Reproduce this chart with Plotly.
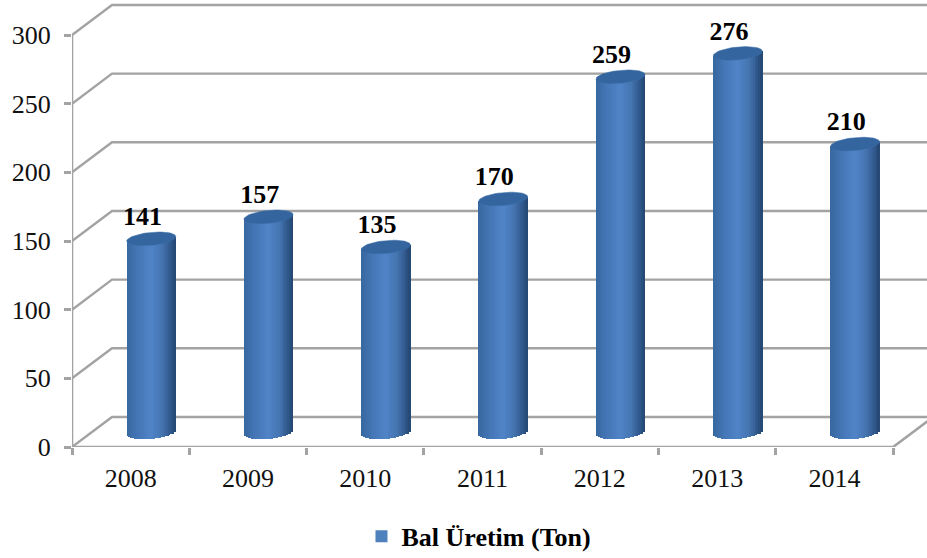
import numpy as np
import plotly.graph_objects as go

years = ["2008", "2009", "2010", "2011", "2012", "2013", "2014"]
values = [141, 157, 135, 170, 259, 276, 210]
y_ticks = [0, 50, 100, 150, 200, 250, 300]
series_name = "Bal Üretim (Ton)"

FONT = "Liberation Serif"
GRID = "#a3a3a3"
WALL_DX, WALL_DY = 0.341, 21.9
BAR_DX, BAR_DY = 0.176, 10.6
BAR_W = 0.418
ELL_H = 4.7
SKEW = 1.6
STRIPS = 26

def lerp(stops, t):
    for (a, ca), (b, cb) in zip(stops, stops[1:]):
        if t <= b:
            f = (t - a) / (b - a)
            c = [ca[k] + (cb[k] - ca[k]) * f for k in range(3)]
            return "rgb(%d,%d,%d)" % tuple(c)
    return "rgb(%d,%d,%d)" % tuple(stops[-1][1])

STOPS = [(0.0, (56, 104, 160)), (0.25, (70, 120, 184)), (0.5, (80, 132, 200)),
         (0.72, (70, 118, 178)), (0.9, (48, 88, 140)), (1.0, (36, 70, 112))]

fig = go.Figure()
xs = np.arange(len(years), dtype=float)
vals = np.array(values, dtype=float)
sw = BAR_W / STRIPS

for s in range(STRIPS):
    u = (s + 0.5) / STRIPS
    t = 2 * u - 1
    top = vals + BAR_DY + SKEW * t
    base = np.full_like(vals, BAR_DY - ELL_H * np.sqrt(1 - t * t) + SKEW * t)
    fig.add_trace(go.Bar(
        x=xs + BAR_DX + t * BAR_W / 2, y=top - base, base=base,
        width=sw * 1.25, marker=dict(color=lerp(STOPS, u), line_width=0),
        showlegend=False, hoverinfo="skip"))

# top caps of the cylinders
theta = np.linspace(0, 2 * np.pi, 61)
for i, v in enumerate(values):
    c = np.cos(theta)
    fig.add_trace(go.Scatter(
        x=i + BAR_DX + c * BAR_W / 2,
        y=v + BAR_DY + SKEW * c + ELL_H * np.sin(theta),
        mode="lines", fill="toself", fillcolor="#34659f",
        line=dict(color="#3a6ca6", width=0.5),
        showlegend=False, hoverinfo="skip"))

# value labels
fig.add_trace(go.Scatter(
    x=xs + 0.1, y=vals + BAR_DY + ELL_H + 0.5, text=[str(v) for v in values],
    mode="text", textposition="top center",
    textfont=dict(family=FONT, size=26, color="#000000"),
    texttemplate="<b>%{text}</b>", showlegend=False, hoverinfo="skip"))

# legend entry
fig.add_trace(go.Bar(x=[None], y=[None], name=series_name,
                     marker=dict(color="#4f81bd", line_width=0)))

shapes = []
def line_path(points):
    return "M " + " L ".join("%.4f,%.4f" % p for p in points)

xl, xr = -0.5, len(years) - 0.5
for t in y_ticks:
    shapes.append(dict(type="path", layer="below", xref="x", yref="y",
                       path=line_path([(xl, t), (xl + WALL_DX, t + WALL_DY), (xr + 1, t + WALL_DY)]),
                       line=dict(color=GRID, width=2.4)))
shapes.append(dict(type="path", layer="below", xref="x", yref="y",
                   path=line_path([(xl, 0), (xl, y_ticks[-1])]), line=dict(color=GRID, width=2.6)))
shapes.append(dict(type="path", layer="below", xref="x", yref="y",
                   path=line_path([(xl, 0), (xr, 0), (xr + WALL_DX, WALL_DY)]), line=dict(color=GRID, width=2.6)))

fig.update_layout(
    width=927, height=590,
    autosize=False,
    margin=dict(l=72, r=0, t=0, b=143, pad=0),
    paper_bgcolor="white", plot_bgcolor="white",
    barmode="overlay", bargap=0,
    shapes=shapes,
    xaxis=dict(range=[-0.5, 6.789], tickmode="array", tickvals=list(xs), ticktext=years,
               ticks="", showgrid=False, zeroline=False, showline=False,
               ticklabelstandoff=13,
               tickfont=dict(family=FONT, size=26, color="#111111"),
               minor=dict(tickmode="array", tickvals=[k - 0.5 for k in range(len(years) + 1)],
                          ticks="outside", ticklen=7, tickwidth=3, tickcolor=GRID, showgrid=False)),
    yaxis=dict(range=[0, 325.5], tickmode="array", tickvals=y_ticks,
               ticks="outside", ticklen=7, tickwidth=2.6, tickcolor=GRID,
               showgrid=False, zeroline=False, showline=False,
               ticklabelstandoff=8,
               tickfont=dict(family=FONT, size=26, color="#111111")),
    legend=dict(x=0.476, xanchor="center", y=-0.2, yanchor="middle", orientation="h",
                font=dict(family=FONT, size=26, color="#000000", weight="bold"),
                bgcolor="rgba(0,0,0,0)", itemwidth=30),
)
fig.write_html("out.html", config=dict(displayModeBar=False),
               post_script="document.documentElement.style.overflow='hidden';document.body.style.margin='0';document.body.style.overflow='hidden';")
